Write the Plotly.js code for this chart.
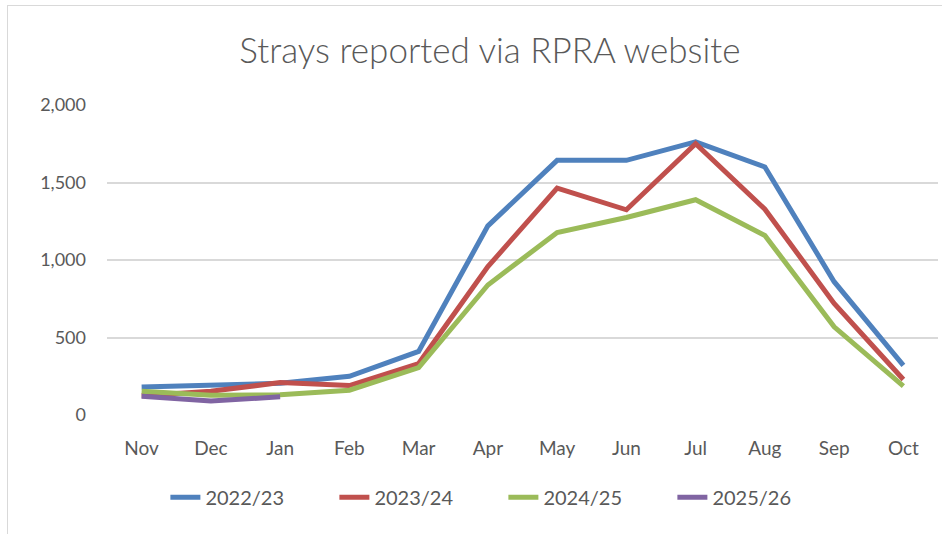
<!DOCTYPE html>
<html>
<head>
<meta charset="utf-8">
<script src="https://cdn.plot.ly/plotly-3.0.1.min.js"></script>
<style>
  html, body { margin: 0; padding: 0; background: #fff; }
  #frame { position: absolute; left: 7px; top: 5px; width: 940px; height: 530px; border: 1px solid #d9d9d9; box-sizing: border-box; }
  #plotArea { position: absolute; left: 0; top: 0; width: 942px; height: 534px; }
</style>
</head>
<body>
<div id="frame"></div>
<div id="plotArea"></div>
<script>
// months run Nov -> Oct
var months = ["Nov", "Dec", "Jan", "Feb", "Mar", "Apr", "May", "Jun", "Jul", "Aug", "Sep", "Oct"];

var y2223 = [180, 190, 205, 250, 410, 1220, 1643, 1643, 1762, 1600, 860, 320];
var y2324 = [125, 153, 209, 190, 332, 957, 1464, 1324, 1750, 1328, 720, 229];
var y2425 = [153, 127, 130, 160, 306, 839, 1177, 1274, 1389, 1158, 569, 186];
var y2526 = [121, 91, 117];

var seriesNames = ["2022/23", "2023/24", "2024/25", "2025/26"];
var seriesColors = ["#4F81BD", "#C0504D", "#9BBB59", "#8064A2"];
var seriesValues = [y2223, y2324, y2425, y2526];

var data = seriesValues.map(function (vals, i) {
    return {
        x: months.slice(0, vals.length),
        y: vals,
        name: seriesNames[i],
        type: "scatter",
        mode: "lines",
        line: {color: seriesColors[i], width: 5}
    };
});

var font = "Lato, 'Open Sans', sans-serif";

var layout = {
    width: 942,
    height: 534,
    paper_bgcolor: "rgba(0,0,0,0)",
    plot_bgcolor: "rgba(0,0,0,0)",
    margin: {l: 107, r: 4, t: 105, b: 119},
    font: {family: font, size: 18, color: "#595959"},
    title: {
        text: "Strays reported via RPRA website",
        font: {family: font, size: 35, weight: 300, color: "#595959"},
        x: 0.52, xanchor: "center",
        y: 0.905, yanchor: "middle"
    },
    xaxis: {
        type: "category",
        range: [-0.5, 11.5],
        showgrid: false,
        showline: false,
        zeroline: false,
        ticks: "",
        ticklabelstandoff: 20,
        tickfont: {size: 19, color: "#595959"}
    },
    yaxis: {
        range: [0, 2000],
        tickvals: [0, 500, 1000, 1500, 2000],
        tickformat: ",",
        showgrid: true,
        gridcolor: "#d9d9d9",
        gridwidth: 1.5,
        zeroline: false,
        showline: false,
        ticks: "",
        ticklabelstandoff: 20,
        tickfont: {size: 18, color: "#595959"}
    },
    showlegend: true,
    legend: {
        orientation: "h",
        x: 0.477, xanchor: "center",
        y: -0.265, yanchor: "middle",
        font: {size: 20, color: "#595959"},
        entrywidth: 124,
        tracegroupgap: 0
    }
};

Plotly.newPlot("plotArea", data, layout, {displayModeBar: false});
</script>
</body>
</html>
